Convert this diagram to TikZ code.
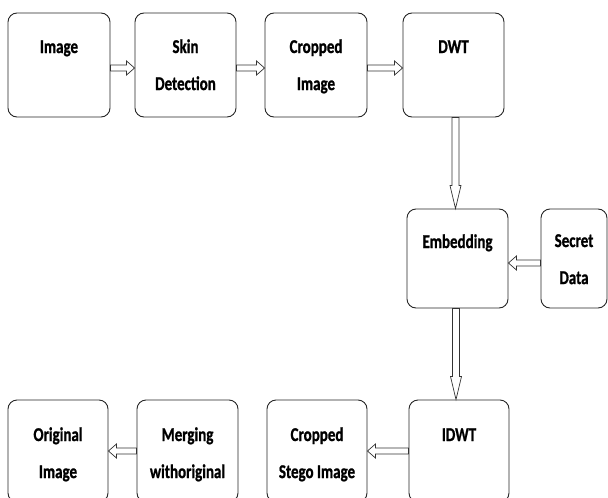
\documentclass[tikz,border=0pt]{standalone}
\usepackage{fontspec}
\setmainfont{Carlito}[BoldFeatures={FakeBold=1.2}]
\usepackage{graphicx}
\usetikzlibrary{calc}
\newcommand\stx[1]{\scalebox{1}[1.3]{\begin{tabular}[t]{@{}c@{}}#1\end{tabular}}}
\tikzset{
 box/.style={draw=black!85, line width=0.9pt, rounded corners=9pt, inner sep=0pt},
 lbl/.style={anchor=base, inner sep=0pt, font=\bfseries\fontsize{15}{28.5}\selectfont},
 blk/.style={draw=black!80, line width=0.7pt, fill=white},
 rblock/.style={to path={let \p1=(\tikztostart), \p2=(\tikztotarget) in
   (\x1,\y1+3pt) -- (\x2-8pt,\y1+3pt) -- (\x2-8pt,\y1+7pt) -- (\x2,\y1) -- (\x2-8pt,\y1-7pt) -- (\x2-8pt,\y1-3pt) -- (\x1,\y1-3pt) -- cycle}},
 lblock/.style={to path={let \p1=(\tikztostart), \p2=(\tikztotarget) in
   (\x1,\y1+3pt) -- (\x2+8pt,\y1+3pt) -- (\x2+8pt,\y1+7pt) -- (\x2,\y1) -- (\x2+8pt,\y1-7pt) -- (\x2+8pt,\y1-3pt) -- (\x1,\y1-3pt) -- cycle}},
 dblock/.style={to path={let \p1=(\tikztostart), \p2=(\tikztotarget) in
   (\x1-3.5pt,\y1) -- (\x1-3.5pt,\y2+23pt) -- (\x1-5.5pt,\y2+23pt) -- (\x1,\y2) -- (\x1+5.5pt,\y2+23pt) -- (\x1+3.5pt,\y2+23pt) -- (\x1+3.5pt,\y1) -- cycle}},
}
\begin{document}
\begin{tikzpicture}[x=1pt,y=-1pt]
\useasboundingbox (0,0) rectangle (608,498);
\clip (0,0) rectangle (608,498);
% top row
\node[box, minimum width=102pt, minimum height=104pt] (b1) at (59,65) {};
\node[box, minimum width=101pt, minimum height=104pt] (b2) at (185.5,65) {};
\node[box, minimum width=102pt, minimum height=104pt] (b3) at (316,65) {};
\node[box, minimum width=101pt, minimum height=104pt] (b4) at (453.5,65) {};
\node[lbl] (t1) at (59,53) {\stx{Image}};
\node[lbl] (t2) at (185.5,53) {\stx{Skin\\Detection}};
\node[lbl] (t3) at (316,53) {\stx{Cropped\\Image}};
\node[lbl] (t4) at (453.5,53) {\stx{DWT}};
% middle row
\node[box, minimum width=101pt, minimum height=99pt] (emb) at (457.5,258.5) {};
\node[box, minimum width=66pt, minimum height=99pt] (sec) at (574,258.5) {};
\node[lbl] (temb) at (457.5,248) {\stx{Embedding}};
\node[lbl] (tsec) at (574,247) {\stx{Secret\\Data}};
% bottom row
\node[box, minimum width=100pt, minimum height=102pt] (o1) at (58,451) {};
\node[box, minimum width=101pt, minimum height=102pt] (mrg) at (187.5,451) {};
\node[box, minimum width=100pt, minimum height=102pt] (stg) at (317,451) {};
\node[box, minimum width=100pt, minimum height=102pt] (idwt) at (459,451) {};
\node[lbl] (to1) at (58,441) {\stx{Original\\Image}};
\node[lbl] (tmrg) at (187.5,441) {\stx{Merging\\withoriginal}};
\node[lbl] (tstg) at (317,441) {\stx{Cropped\\Stego Image}};
\node[lbl] (tidwt) at (459,441) {\stx{IDWT}};
% arrows
\path[blk] ([yshift=-3pt]b1.east) to[rblock] ([yshift=-3pt]b2.west);
\path[blk] ([yshift=-3pt]b2.east) to[rblock] ([yshift=-3pt]b3.west);
\path[blk] ([yshift=-3pt]b3.east) to[rblock] ([yshift=-3pt]b4.west);
\path[blk] ([xshift=2pt]b4.south) to[dblock] ([xshift=2pt]b4.south |- emb.north);
\path[blk] ([yshift=-4.5pt]sec.west) to[lblock] ([yshift=-4.5pt]emb.east);
\path[blk] ([xshift=-1.5pt]emb.south) to[dblock] ([xshift=-1.5pt]emb.south |- idwt.north);
\path[blk] (idwt.west) to[lblock] (stg.east);
\path[blk] (mrg.west) to[lblock] (o1.east);
\end{tikzpicture}
\end{document}
